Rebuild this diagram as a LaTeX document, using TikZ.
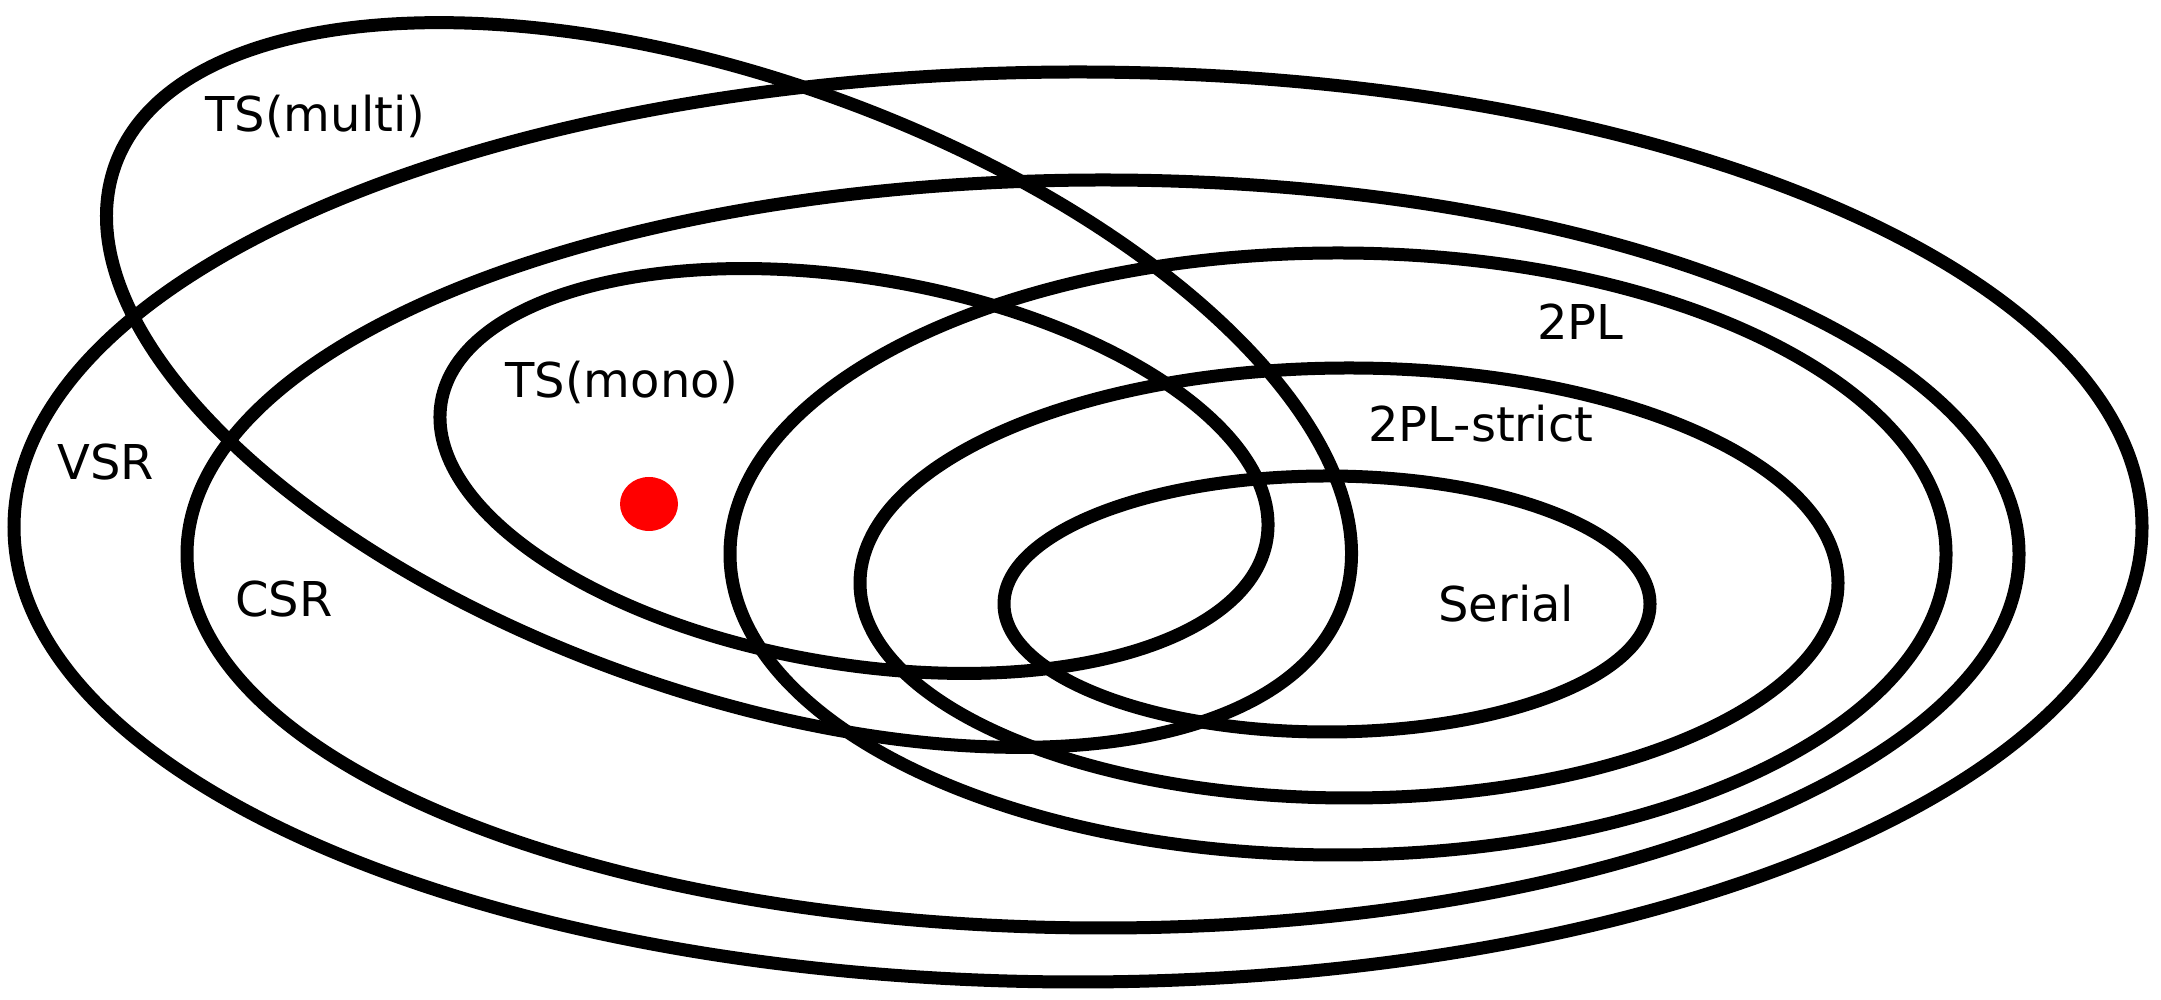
\documentclass[tikz,border=0pt]{standalone}
\usepackage{fontspec}
\setmainfont{DejaVu Sans}
\begin{document}
\begin{tikzpicture}[x=0.5pt,y=0.5pt,
  setline/.style={draw=black,line width=6.5pt},
  lbl/.style={anchor=base west,inner sep=0pt,font=\fontsize{24}{28}\selectfont}]
\useasboundingbox[fill=white] (0,0) rectangle (2161,1000);
% sets
\draw[setline] (1078,473) ellipse [x radius=1064, y radius=455];
\draw[setline] (1103,446) ellipse [x radius=916, y radius=374];
\draw[setline] (1338,446) ellipse [x radius=608, y radius=301];
\draw[setline] (1349,417) ellipse [x radius=489, y radius=215];
\draw[setline] (1327,396) ellipse [x radius=323, y radius=128];
\draw[setline, rotate around={-9.45:(854,529)}] (854,529) ellipse [x radius=418.5, y radius=193];
\draw[setline, rotate around={-19.7:(729,615)}] (729,615) ellipse [x radius=652, y radius=306];
% red point
\fill[red] (649,496) ellipse [x radius=29, y radius=27];
% labels
\node[lbl] (tsmulti) at (205,868) {TS(multi)};
\node[lbl] (tsmono) at (505,602) {TS(mono)};
\node[lbl] (vsr) at (57,520) {VSR};
\node[lbl] (csr) at (235,383) {CSR};
\node[lbl] (tpl) at (1537,660) {2PL};
\node[lbl] (tplstrict) at (1368,558) {2PL-strict};
\node[lbl] (serial) at (1438,378) {Serial};
\end{tikzpicture}
\end{document}
